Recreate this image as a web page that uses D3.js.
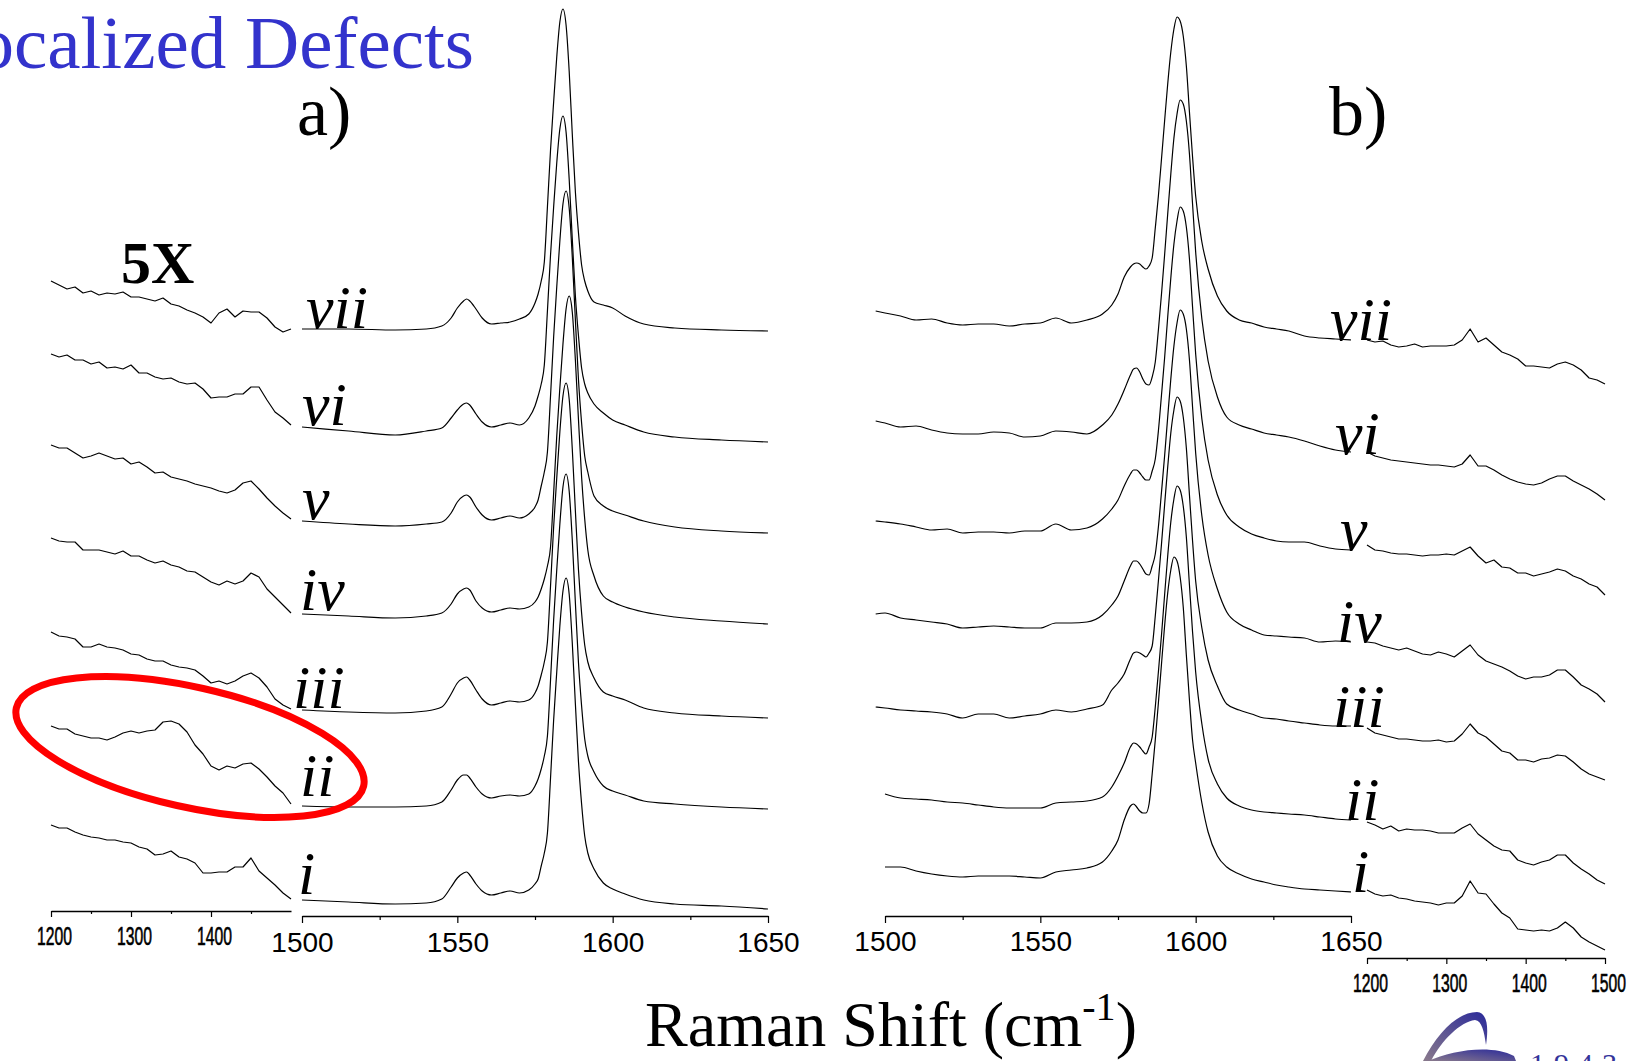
<!DOCTYPE html>
<html>
<head>
<meta charset="utf-8">
<script src="https://cdn.jsdelivr.net/npm/d3@7"></script>
<style>
  html, body { margin: 0; padding: 0; background: #fff; overflow: hidden; }
  svg { display: block; }
</style>
</head>
<body>
<div id="chart"></div>
<script>
// Raman shift positions (cm-1) where the spectra were read
const gridA = [1500, 1515, 1530, 1540, 1545, 1548, 1550, 1552, 1553, 1554, 1556, 1558, 1561, 1564, 1567, 1570, 1573, 1575, 1576, 1577, 1578, 1579, 1580, 1581, 1582, 1583, 1584, 1585, 1586, 1587, 1588, 1589, 1590, 1591, 1592, 1594, 1597, 1600, 1604, 1610, 1620, 1635, 1650];
const gridB = [1497, 1500, 1505, 1510, 1515, 1520, 1525, 1530, 1535, 1540, 1545, 1550, 1555, 1560, 1565, 1570, 1573, 1575, 1577, 1579, 1580, 1581, 1582, 1583, 1584, 1585, 1586, 1587, 1588, 1589, 1590, 1591, 1592, 1593, 1594, 1595, 1596, 1597, 1598, 1599, 1600, 1602, 1604, 1607, 1610, 1614, 1618, 1622, 1626, 1630, 1635, 1640, 1645, 1650];
const gridInset = [1200, 1210, 1220, 1230, 1240, 1250, 1260, 1270, 1280, 1290, 1300, 1310, 1320, 1330, 1340, 1350, 1360, 1370, 1380, 1390, 1400, 1410, 1420, 1430, 1440, 1450, 1460, 1470, 1480, 1490, 1500];

const seriesLabels = ["i", "ii", "iii", "iv", "v", "vi", "vii"];

// panel a) stacked intensities (a.u., offset)
const specA_i   = [14, 12, 10, 11, 15, 27, 36, 41, 42, 39, 30, 23, 19, 21, 23, 21, 24, 30, 35, 48, 61, 81, 136, 194, 242, 288, 323, 336, 320, 271, 210, 152, 110, 78, 61, 45, 31, 25, 20, 14, 10, 8, 5];
const specA_ii  = [108, 107, 107, 108, 112, 124, 134, 139, 139, 136, 127, 120, 116, 118, 119, 118, 120, 128, 135, 145, 158, 178, 234, 294, 344, 390, 427, 440, 423, 374, 311, 251, 208, 175, 158, 142, 128, 123, 119, 113, 110, 107, 105];
const specA_iii = [204, 202, 201, 203, 207, 220, 231, 236, 237, 234, 224, 215, 209, 211, 213, 212, 214, 221, 228, 239, 252, 272, 328, 387, 436, 482, 518, 531, 515, 465, 403, 344, 301, 269, 252, 236, 222, 218, 214, 206, 201, 198, 196];
const specA_iv  = [300, 298, 296, 298, 301, 310, 320, 325, 326, 324, 313, 306, 302, 304, 306, 305, 307, 312, 317, 325, 335, 348, 367, 421, 478, 526, 570, 605, 618, 602, 554, 494, 437, 395, 364, 338, 318, 312, 307, 302, 297, 293, 290];
const specA_v   = [393, 390, 388, 390, 392, 401, 412, 418, 419, 417, 407, 399, 394, 396, 398, 396, 400, 407, 414, 428, 442, 462, 518, 577, 627, 673, 710, 723, 706, 657, 594, 534, 491, 458, 442, 418, 408, 403, 399, 393, 387, 383, 381];
const specA_vi  = [487, 483, 479, 483, 486, 496, 504, 510, 511, 509, 500, 492, 487, 489, 491, 489, 496, 508, 518, 530, 549, 603, 659, 707, 751, 785, 798, 782, 735, 675, 618, 578, 546, 530, 521, 510, 501, 494, 489, 482, 477, 474, 472];
const specA_vii = [585, 585, 584, 585, 588, 596, 606, 613, 615, 613, 605, 596, 590, 591, 592, 595, 600, 611, 620, 633, 652, 707, 764, 812, 857, 892, 905, 889, 843, 780, 722, 681, 649, 633, 623, 612, 609, 606, 598, 590, 586, 584, 583];

// panel b) stacked intensities
const specB_i   = [null, 47, 47, 43, 40, 38, 37, 38, 38, 38, 37, 36, 42, 44, 46, 52, 63, 74, 94, 108, 110, 107, 103, 101, 101, 110, 140, 174, 211, 250, 288, 321, 344, 357, 353, 337, 307, 259, 214, 174, 151, 111, 82, 58, 47, 40, 35, 32, 29, 27, 25, 24, 23, 22];
const specB_ii  = [null, 120, 116, 115, 114, 112, 111, 109, 107, 106, 106, 106, 111, 112, 113, 117, 127, 138, 151, 167, 171, 170, 167, 163, 160, 167, 177, 207, 242, 279, 319, 358, 392, 415, 428, 424, 408, 377, 329, 282, 242, 190, 155, 130, 116, 108, 104, 102, 101, 100, 99, 97, 95, 94];
const specB_iii = [207, 206, 204, 203, 202, 200, 196, 200, 200, 196, 198, 200, 204, 202, 205, 209, 224, 231, 240, 255, 261, 262, 261, 259, 257, 261, 268, 298, 333, 370, 409, 447, 481, 504, 517, 513, 497, 466, 419, 373, 333, 286, 254, 228, 210, 204, 200, 196, 195, 193, 191, 189, 188, 188];
const specB_iv  = [300, 301, 296, 294, 292, 290, 286, 287, 288, 287, 286, 286, 291, 291, 292, 299, 309, 318, 333, 348, 353, 353, 350, 345, 340, 339, 348, 360, 387, 422, 458, 497, 535, 568, 591, 604, 600, 585, 554, 507, 461, 398, 359, 325, 302, 290, 284, 279, 278, 277, 276, 272, 273, 272];
const specB_v   = [393, 392, 390, 387, 384, 385, 381, 382, 382, 381, 383, 383, 390, 384, 386, 395, 405, 414, 428, 440, 444, 444, 441, 437, 434, 434, 443, 455, 483, 519, 556, 597, 636, 670, 693, 707, 703, 687, 655, 607, 560, 495, 454, 419, 399, 387, 380, 376, 373, 372, 372, 368, 365, 364];
const specB_vi  = [493, 491, 487, 488, 484, 481, 480, 480, 482, 481, 477, 478, 483, 482, 480, 489, 499, 510, 524, 539, 545, 546, 542, 535, 530, 529, 537, 552, 584, 620, 659, 700, 740, 776, 800, 814, 810, 793, 760, 710, 662, 595, 553, 517, 497, 489, 485, 481, 479, 477, 473, 468, 464, 462];
const specB_vii = [603, 601, 598, 594, 595, 591, 589, 590, 590, 588, 590, 591, 596, 591, 594, 600, 609, 620, 637, 647, 650, 651, 650, 647, 645, 648, 656, 686, 718, 755, 793, 830, 862, 885, 897, 893, 878, 848, 802, 757, 718, 672, 645, 618, 603, 594, 591, 587, 585, 583, 578, 576, 575, 574];

// 5X insets, 1200-1500 cm-1
const insetA_i   = [89, 86, 86, 82, 79, 77, 76, 74, 74, 72, 71, 67, 65, 59, 60, 63, 57, 55, 51, 41, 41, 42, 42, 47, 47, 56, 43, 36, 29, 21, 15];
const insetA_ii  = [188, 185, 185, 180, 178, 176, 176, 174, 177, 181, 183, 181, 183, 184, 192, 193, 190, 182, 169, 160, 148, 144, 148, 146, 150, 151, 145, 137, 128, 121, 110];
const insetA_iii = [282, 278, 277, 275, 267, 267, 270, 267, 266, 264, 260, 259, 255, 253, 253, 249, 247, 246, 244, 238, 231, 233, 230, 233, 238, 241, 236, 227, 215, 209, 205];
const insetA_iv  = [376, 373, 372, 372, 364, 364, 364, 362, 360, 363, 358, 358, 354, 351, 353, 349, 347, 343, 342, 337, 332, 329, 333, 330, 333, 341, 337, 325, 317, 309, 301];
const insetA_v   = [469, 466, 466, 461, 456, 458, 461, 458, 455, 456, 450, 452, 447, 441, 442, 437, 435, 433, 430, 428, 426, 423, 421, 424, 431, 433, 425, 416, 408, 401, 395];
const insetA_vi  = [560, 557, 559, 554, 554, 550, 552, 546, 547, 545, 549, 541, 541, 537, 535, 536, 532, 530, 531, 525, 516, 517, 517, 520, 520, 527, 527, 514, 502, 496, 489];
const insetA_vii = [633, 629, 625, 627, 621, 623, 619, 621, 620, 622, 617, 617, 615, 613, 616, 610, 608, 604, 601, 597, 591, 601, 605, 597, 603, 602, 602, 596, 587, 582, 585];

const insetB_i   = [24, 20, 18, 19, 16, 15, 13, 12, 11, 9, 11, 11, 18, 33, 21, 20, 10, 1, -4, -15, -16, -17, -16, -17, -14, -8, -14, -23, -28, -32, -36];
const insetB_ii  = [92, 89, 85, 88, 83, 85, 84, 84, 83, 81, 81, 81, 86, 90, 80, 74, 68, 64, 63, 54, 51, 49, 52, 54, 59, 59, 51, 45, 40, 34, 30];
const insetB_iii = [186, 181, 179, 177, 175, 175, 174, 173, 173, 174, 172, 173, 180, 190, 181, 177, 170, 163, 161, 154, 154, 152, 155, 156, 159, 158, 152, 145, 140, 137, 134];
const insetB_iv  = [272, 271, 268, 266, 264, 266, 263, 260, 259, 262, 260, 257, 263, 269, 259, 253, 250, 247, 243, 238, 235, 237, 237, 239, 244, 244, 237, 229, 225, 220, 212];
const insetB_v   = [369, 364, 363, 361, 360, 360, 359, 358, 359, 359, 360, 359, 363, 367, 358, 351, 354, 347, 346, 341, 341, 338, 340, 342, 345, 343, 338, 335, 330, 327, 319];
const insetB_vi  = [462, 458, 456, 454, 453, 452, 451, 450, 449, 449, 448, 447, 450, 459, 448, 448, 444, 439, 435, 432, 430, 429, 431, 435, 438, 438, 433, 429, 425, 420, 414];
const insetB_vii = [574, 572, 573, 569, 567, 568, 570, 567, 568, 568, 568, 569, 574, 585, 572, 576, 569, 562, 559, 555, 548, 548, 547, 546, 550, 552, 549, 544, 536, 534, 530];

const mainTicks = [1500, 1550, 1600, 1650];
const mainMinorTicks = [1525, 1575, 1625];
const insetTicksA = [1200, 1300, 1400];
const insetTicksB = [1200, 1300, 1400, 1500];
const insetMinorTicks = [1250, 1350, 1450];

function init() {
    const w = 1643;
    const h = 1061;
    const serif = "'Liberation Serif', 'Times New Roman', serif";
    const sans = "'Liberation Sans', Arial, sans-serif";

    const svg = d3.select("#chart").append("svg")
        .attr("width", w)
        .attr("height", h);
    svg.append("rect").attr("width", w).attr("height", h).attr("fill", "#fff");

    // scales: all panels share one intensity axis (offset stack)
    const y = d3.scaleLinear().domain([0, 905]).range([914, 9]);
    const xA = d3.scaleLinear().domain([1500, 1650]).range([302, 768]);
    const xB = d3.scaleLinear().domain([1500, 1650]).range([885, 1351]);
    const xAi = d3.scaleLinear().domain([1200, 1500]).range([51, 291]);
    const xBi = d3.scaleLinear().domain([1200, 1500]).range([1367, 1605]);

    const specsA = [specA_i, specA_ii, specA_iii, specA_iv, specA_v, specA_vi, specA_vii];
    const specsB = [specB_i, specB_ii, specB_iii, specB_iv, specB_v, specB_vi, specB_vii];
    const insetsA = [insetA_i, insetA_ii, insetA_iii, insetA_iv, insetA_v, insetA_vi, insetA_vii];
    const insetsB = [insetB_i, insetB_ii, insetB_iii, insetB_iv, insetB_v, insetB_vi, insetB_vii];

    function drawLines(grid, list, xs, curve) {
        const line = d3.line()
            .defined(d => d[1] !== null)
            .x(d => xs(d[0]))
            .y(d => y(d[1]))
            .curve(curve);
        svg.append("g")
            .selectAll("path")
            .data(list.map(vals => grid.map((g, i) => [g, vals[i]])))
            .enter()
            .append("path")
            .attr("d", line)
            .attr("fill", "none")
            .attr("stroke", "#000")
            .attr("stroke-width", 1.2)
            .attr("stroke-linejoin", "round");
    }

    drawLines(gridA, specsA, xA, d3.curveMonotoneX);
    drawLines(gridB, specsB, xB, d3.curveMonotoneX);
    drawLines(gridInset, insetsA, xAi, d3.curveLinear);
    drawLines(gridInset, insetsB, xBi, d3.curveLinear);

    // axes
    function drawAxis(scale, yPos, majors, minors, majorLen, minorLen, pad, fontSize, squeeze) {
        const gMinor = svg.append("g")
            .attr("transform", `translate(0,${yPos})`)
            .call(d3.axisBottom(scale).tickValues(minors).tickSize(minorLen).tickFormat("").tickSizeOuter(0));
        gMinor.select(".domain").remove();
        const g = svg.append("g")
            .attr("transform", `translate(0,${yPos})`)
            .call(d3.axisBottom(scale).tickValues(majors).tickSize(majorLen).tickPadding(pad).tickSizeOuter(0).tickFormat(d3.format("d")));
        svg.selectAll(".domain").attr("stroke", "#000").attr("stroke-width", 1.5);
        svg.selectAll(".tick line").attr("stroke", "#000").attr("stroke-width", 1.2);
        const txt = g.selectAll("text")
            .attr("font-family", sans)
            .attr("font-size", fontSize)
            .attr("fill", "#000");
        if (squeeze) {
            // condensed, heavy digits like the original insets
            txt.attr("textLength", squeeze).attr("lengthAdjust", "spacingAndGlyphs")
                .attr("x", 3)
                .attr("stroke", "#000")
                .attr("stroke-width", 0.6);
        }
    }

    drawAxis(xA, 916, mainTicks, mainMinorTicks, 7, 4, 9, 28, null);
    drawAxis(xB, 916, mainTicks, mainMinorTicks, 7, 4, 8, 28, null);
    drawAxis(xAi, 911, insetTicksA, insetMinorTicks, 6, 3, 10, 25, 35);
    drawAxis(xBi, 958, insetTicksB, insetMinorTicks, 6, 3, 10, 25, 35);

    // spectrum labels (italic roman numerals)
    const labelPosA = [[298, 894], [300, 796], [293, 708], [300, 610], [302, 519], [302, 425], [306, 328]];
    const labelPosB = [[1352, 892], [1345, 820], [1333, 727], [1337, 642], [1340, 550], [1335, 454], [1330, 340]];
    [labelPosA, labelPosB].forEach(pos => {
        svg.append("g")
            .selectAll("text")
            .data(seriesLabels)
            .enter()
            .append("text")
            .attr("x", (d, i) => pos[i][0])
            .attr("y", (d, i) => pos[i][1])
            .attr("font-family", serif)
            .attr("font-style", "italic")
            .attr("font-size", 62)
            .attr("fill", "#000")
            .text(d => d);
    });

    // title and panel letters
    svg.append("text")
        .attr("x", 474)
        .attr("y", 68)
        .attr("text-anchor", "end")
        .attr("font-family", serif)
        .attr("font-size", 75)
        .attr("fill", "#3333cc")
        .text("Localized Defects");

    svg.append("text").attr("x", 297).attr("y", 135)
        .attr("font-family", serif).attr("font-size", 70).text("a)");
    svg.append("text").attr("x", 1329).attr("y", 135)
        .attr("font-family", serif).attr("font-size", 70).text("b)");

    svg.append("text").attr("x", 121).attr("y", 283)
        .attr("font-family", serif).attr("font-weight", "bold").attr("font-size", 60).text("5X");

    // x label
    const xl = svg.append("text")
        .attr("x", 891)
        .attr("y", 1046)
        .attr("text-anchor", "middle")
        .attr("font-family", serif)
        .attr("font-size", 64)
        .attr("fill", "#000");
    xl.append("tspan").text("Raman Shift (cm");
    xl.append("tspan").attr("font-size", 40).attr("dy", -26).text("-1");
    xl.append("tspan").attr("dy", 26).text(")");

    // red highlight around inset ii
    svg.append("ellipse")
        .attr("cx", 190)
        .attr("cy", 747)
        .attr("rx", 178)
        .attr("ry", 60)
        .attr("transform", "rotate(12.7,190,747)")
        .attr("fill", "none")
        .attr("stroke", "#ff0000")
        .attr("stroke-width", 7);

    // logo corner
    const defs = svg.append("defs");
    const grad = defs.append("linearGradient").attr("id", "swoosh")
        .attr("x1", "0%").attr("y1", "100%").attr("x2", "100%").attr("y2", "0%");
    grad.append("stop").attr("offset", "0%").attr("stop-color", "#8a7a8c");
    grad.append("stop").attr("offset", "100%").attr("stop-color", "#2a2a9a");
    svg.append("path")
        .attr("d", "M1423,1061 C1438,1032 1458,1012 1477,1012 C1489,1013 1488,1032 1486,1045 C1484,1031 1482,1021 1475,1020 C1460,1022 1442,1040 1431,1061 Z")
        .attr("fill", "url(#swoosh)");
    svg.append("path")
        .attr("d", "M1428,1061 C1452,1050 1492,1044 1514,1056 L1516,1061 Z")
        .attr("fill", "url(#swoosh)");
    svg.append("text")
        .attr("x", 1530)
        .attr("y", 1074)
        .attr("font-family", serif)
        .attr("font-size", 30)
        .attr("letter-spacing", 9)
        .attr("fill", "#33339a")
        .text("1943");
}

init();
</script>
</body>
</html>
